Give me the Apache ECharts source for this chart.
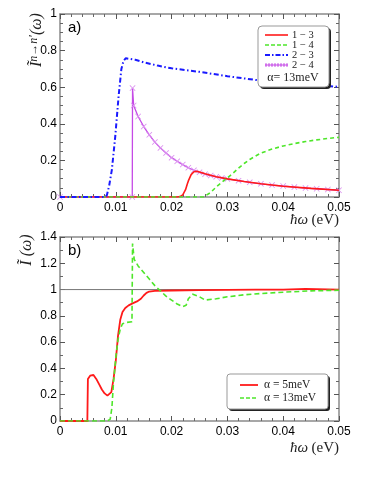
<!DOCTYPE html>
<html>
<head>
<meta charset="utf-8">
<script src="https://cdn.jsdelivr.net/npm/echarts@6/dist/echarts.min.js"></script>
<style>
  html, body { margin: 0; padding: 0; background: #fff; }
  #chart { width: 383px; height: 495px; }
</style>
</head>
<body>
<div id="chart"></div>
<script>
  // panel a) : partial spectra, alpha = 13 meV  ([hw (eV), value])
  const a13 = [[0, 0], [0.021, 0], [0.0215, 0.002], [0.022, 0.012], [0.0225, 0.04], [0.0228, 0.07], [0.023, 0.088],
    [0.0235, 0.122], [0.024, 0.138], [0.0245, 0.141], [0.025, 0.137], [0.026, 0.127], [0.028, 0.111], [0.03, 0.099],
    [0.033, 0.085], [0.036, 0.072], [0.04, 0.059], [0.045, 0.047], [0.05, 0.037]]
  const a14 = [[0, 0], [0.0257, 0], [0.026, 0.005], [0.027, 0.025], [0.028, 0.055], [0.029, 0.08], [0.03, 0.105],
    [0.031, 0.13], [0.032, 0.158], [0.033, 0.183], [0.034, 0.205], [0.035, 0.223], [0.036, 0.24], [0.038, 0.262],
    [0.04, 0.279], [0.042, 0.292], [0.044, 0.303], [0.046, 0.312], [0.048, 0.32], [0.05, 0.326]]
  const a23 = [[0, 0], [0.008, 0], [0.0084, 0.01], [0.0088, 0.06], [0.0093, 0.15], [0.0099, 0.33], [0.0105, 0.55],
    [0.011, 0.7], [0.0114, 0.745], [0.0118, 0.758], [0.012, 0.76], [0.0135, 0.75], [0.015, 0.736], [0.0175, 0.718],
    [0.02, 0.703], [0.025, 0.684], [0.03, 0.66], [0.035, 0.64], [0.04, 0.624], [0.045, 0.612], [0.05, 0.602]]
  const a24 = [[0, 0], [0.01295, 0], [0.013, 0.595], [0.0132, 0.5], [0.014, 0.44], [0.015, 0.385], [0.016, 0.34],
    [0.017, 0.3], [0.018, 0.268], [0.019, 0.24], [0.02, 0.215], [0.021, 0.195], [0.022, 0.177], [0.023, 0.16],
    [0.024, 0.146], [0.025, 0.135], [0.026, 0.125], [0.027, 0.117], [0.028, 0.11], [0.029, 0.104], [0.03, 0.099],
    [0.032, 0.089], [0.034, 0.08], [0.036, 0.072], [0.038, 0.065], [0.04, 0.06], [0.042, 0.054], [0.044, 0.049],
    [0.046, 0.045], [0.048, 0.041], [0.05, 0.037]]

  // panel b) : total spectrum for two alphas
  const b5 = [[0, 0], [0.0049, 0], [0.005, 0.32], [0.0054, 0.345], [0.0057, 0.355], [0.006, 0.35], [0.0065, 0.32],
    [0.007, 0.28], [0.0075, 0.24], [0.008, 0.21], [0.0085, 0.193], [0.0088, 0.19], [0.0092, 0.22], [0.0096, 0.32],
    [0.01, 0.46], [0.0104, 0.65], [0.0108, 0.77], [0.0112, 0.83], [0.0117, 0.86], [0.0123, 0.88], [0.013, 0.895],
    [0.0138, 0.91], [0.0145, 0.93], [0.015, 0.955], [0.0155, 0.975], [0.016, 0.985], [0.017, 0.99], [0.02, 0.993],
    [0.025, 0.996], [0.03, 0.998], [0.035, 0.999], [0.04, 1.0], [0.044, 1.005], [0.046, 1.004], [0.05, 1.0]]
  const b13 = [[0, 0], [0.0085, 0], [0.009, 0.015], [0.0093, 0.1], [0.0096, 0.3], [0.01, 0.48], [0.0104, 0.62],
    [0.0108, 0.7], [0.0112, 0.74], [0.012, 0.75], [0.0129, 0.755], [0.013, 1.35], [0.0133, 1.23], [0.014, 1.18],
    [0.015, 1.13], [0.016, 1.08], [0.017, 1.03], [0.018, 0.99], [0.019, 0.95], [0.02, 0.92], [0.021, 0.89],
    [0.022, 0.87], [0.0226, 0.88], [0.023, 0.93], [0.0238, 0.965], [0.025, 0.945], [0.026, 0.92], [0.028, 0.93],
    [0.03, 0.945], [0.033, 0.96], [0.036, 0.97], [0.04, 0.98], [0.045, 0.99], [0.05, 0.995]]
  const refLevel = 1

  const namesA = ['1 − 3', '1 − 4', '2 − 3', '2 − 4']
  const namesB = ['α = 5meV', 'α = 13meV']
  const xTicks = { min: 0, max: 0.05, interval: 0.01 }
  const yTicksA = { min: 0, max: 1, interval: 0.2 }
  const yTicksB = { min: 0, max: 1.4, interval: 0.2 }

  const sans = 'Liberation Sans, Arial, sans-serif'
  const serif = 'Liberation Serif, Times New Roman, serif'
  const frame = '#8a8a8a'

  function xAxis (grid, pos, show) {
    return {
      type: 'value', gridIndex: grid, position: pos, min: xTicks.min, max: xTicks.max, interval: xTicks.interval,
      axisLine: { show: true, onZero: false, lineStyle: { color: frame, width: 1.5 } },
      axisTick: { show: true, inside: true, length: 5, lineStyle: { color: '#555' } },
      minorTick: { show: true, splitNumber: 5, length: 3, lineStyle: { color: '#666' } },
      splitLine: { show: false },
      axisLabel: { show: show, color: '#000', fontSize: 12, fontFamily: sans, margin: 5,
        formatter: v => String(+v.toFixed(3)) }
    }
  }
  function yAxis (grid, pos, t, minorSplit, show) {
    return {
      type: 'value', gridIndex: grid, position: pos, min: t.min, max: t.max, interval: t.interval,
      axisLine: { show: true, onZero: false, lineStyle: { color: frame, width: 1.5 } },
      axisTick: { show: true, inside: true, length: 5, lineStyle: { color: '#555' } },
      minorTick: { show: true, splitNumber: minorSplit, length: 3, lineStyle: { color: '#666' } },
      splitLine: { show: false },
      axisLabel: { show: show, color: '#000', fontSize: 12, fontFamily: sans, margin: 3,
        formatter: v => String(+v.toFixed(2)) }
    }
  }
  function line (name, data, x, y, color, width, type, z) {
    return {
      name: name, type: 'line', data: data, xAxisIndex: x, yAxisIndex: y, showSymbol: false, z: z,
      lineStyle: { color: color, width: width, type: type }, itemStyle: { color: color }, animation: false
    }
  }

  const xCross = 'path://M0,1L1,0L5,4L9,0L10,1L6,5L10,9L9,10L5,6L1,10L0,9L4,5Z'
  function a24s () {
    let s = line(namesA[3], a24, 0, 0, '#c54ae6', 1.3, 'solid', 2)
    s.showSymbol = true
    s.symbol = xCross
    s.symbolSize = 6
    s.itemStyle = { color: '#dc95f0' }
    return s
  }

  let myChart = echarts.init(document.getElementById('chart'))
  const option = {
    animation: false,
    grid: [
      { left: 60, top: 14, width: 279, height: 183 },
      { left: 60, top: 237, width: 279, height: 184 }
    ],
    xAxis: [xAxis(0, 'bottom', true), xAxis(0, 'top', false), xAxis(1, 'bottom', true), xAxis(1, 'top', false)],
    yAxis: [yAxis(0, 'left', yTicksA, 4, true), yAxis(0, 'right', yTicksA, 4, false),
      yAxis(1, 'left', yTicksB, 2, true), yAxis(1, 'right', yTicksB, 2, false)],
    series: [
      a24s(),
      line(namesA[0], a13, 0, 0, '#ff1a1a', 1.6, 'solid', 3),
      line(namesA[1], a14, 0, 0, '#4ee62a', 1.6, [4, 3], 4),
      line(namesA[2], a23, 0, 0, '#1a1aff', 2, [5, 2.5, 1.5, 2.5], 5),
      Object.assign(line('ref', [[xTicks.min, refLevel], [xTicks.max, refLevel]], 2, 2, '#777', 1, 'solid', 1), { silent: true }),
      line(namesB[0], b5, 2, 2, '#ff1a1a', 1.8, 'solid', 3),
      line(namesB[1], b13, 2, 2, '#4ee62a', 1.6, [5, 3], 4)
    ],
    graphic: [
      // panel labels
      { type: 'text', x: 68, y: 28, style: { text: 'a)', font: '15px ' + sans, fill: '#000', verticalAlign: 'middle' } },
      { type: 'text', x: 68, y: 251, style: { text: 'b)', font: '15px ' + sans, fill: '#000', verticalAlign: 'middle' } },
      // y titles
      { type: 'text', x: 37, y: 40, rotation: Math.PI / 2,
        style: { text: '{i|Ĩ}{s|n→n′}{i|(ω)}', align: 'center', verticalAlign: 'middle',
          rich: { i: { font: 'italic 16px ' + serif, fill: '#222' }, s: { font: 'italic 12px ' + serif, fill: '#222', verticalAlign: 'top', padding: [0, 0, 6, 0] } } } },
      { type: 'text', x: 27, y: 250, rotation: Math.PI / 2,
        style: { text: 'Ĩ (ω)', font: 'italic 16px ' + serif, fill: '#222', align: 'center', verticalAlign: 'middle' } },
      // x titles
      { type: 'text', x: 339, y: 220,
        style: { text: '{i|ħω} {r|(eV)}', align: 'right', verticalAlign: 'middle',
          rich: { i: { font: 'italic 15px ' + serif, fill: '#222' }, r: { font: '15px ' + serif, fill: '#222' } } } },
      { type: 'text', x: 339, y: 448,
        style: { text: '{i|ħω} {r|(eV)}', align: 'right', verticalAlign: 'middle',
          rich: { i: { font: 'italic 15px ' + serif, fill: '#222' }, r: { font: '15px ' + serif, fill: '#222' } } } },
      // legend a
      { type: 'rect', z: 10, shape: { x: 260, y: 28, width: 71, height: 61, r: 4 }, style: { fill: '#222' } },
      { type: 'rect', z: 11, shape: { x: 258, y: 26, width: 71, height: 61, r: 4 }, style: { fill: '#fff', stroke: '#999', lineWidth: 1 } },
      { type: 'line', z: 12, shape: { x1: 265, y1: 35, x2: 288, y2: 35 }, style: { stroke: '#ff1a1a', lineWidth: 1.6 } },
      { type: 'line', z: 12, shape: { x1: 265, y1: 45, x2: 288, y2: 45 }, style: { stroke: '#4ee62a', lineWidth: 1.6, lineDash: [4, 2] } },
      { type: 'line', z: 12, shape: { x1: 265, y1: 55, x2: 288, y2: 55 }, style: { stroke: '#1a1aff', lineWidth: 1.8, lineDash: [5, 2, 1.5, 2] } },
      { type: 'line', z: 12, shape: { x1: 265, y1: 65, x2: 288, y2: 65 }, style: { stroke: '#dc95f0', lineWidth: 3.5, lineDash: [2, 1] } },
      { type: 'line', z: 12, shape: { x1: 265, y1: 65, x2: 288, y2: 65 }, style: { stroke: '#c54ae6', lineWidth: 1 } },
      { type: 'text', z: 12, x: 292, y: 35, style: { text: namesA[0], font: '10.5px ' + serif, fill: '#222', verticalAlign: 'middle' } },
      { type: 'text', z: 12, x: 292, y: 45, style: { text: namesA[1], font: '10.5px ' + serif, fill: '#222', verticalAlign: 'middle' } },
      { type: 'text', z: 12, x: 292, y: 55, style: { text: namesA[2], font: '10.5px ' + serif, fill: '#222', verticalAlign: 'middle' } },
      { type: 'text', z: 12, x: 292, y: 65, style: { text: namesA[3], font: '10.5px ' + serif, fill: '#222', verticalAlign: 'middle' } },
      { type: 'text', z: 12, x: 293, y: 78, style: { text: 'α= 13meV', font: '12px ' + serif, fill: '#222', align: 'center', verticalAlign: 'middle' } },
      // legend b
      { type: 'rect', z: 10, shape: { x: 229, y: 376, width: 101, height: 35, r: 3 }, style: { fill: '#222' } },
      { type: 'rect', z: 11, shape: { x: 227, y: 374, width: 101, height: 35, r: 3 }, style: { fill: '#fff', stroke: '#999', lineWidth: 1 } },
      { type: 'line', z: 12, shape: { x1: 240, y1: 385, x2: 258, y2: 385 }, style: { stroke: '#ff1a1a', lineWidth: 1.8 } },
      { type: 'line', z: 12, shape: { x1: 240, y1: 398, x2: 258, y2: 398 }, style: { stroke: '#4ee62a', lineWidth: 1.6, lineDash: [4, 2] } },
      { type: 'text', z: 12, x: 264, y: 385, style: { text: namesB[0], font: '11.5px ' + serif, fill: '#222', verticalAlign: 'middle' } },
      { type: 'text', z: 12, x: 264, y: 398, style: { text: namesB[1], font: '11.5px ' + serif, fill: '#222', verticalAlign: 'middle' } }
    ]
  }
  myChart.setOption(option)
</script>
</body>
</html>
